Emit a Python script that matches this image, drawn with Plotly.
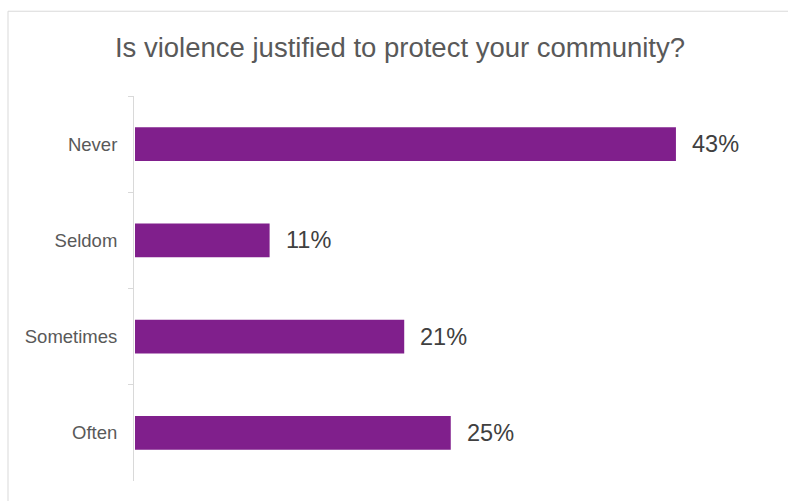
import plotly.graph_objects as go

categories = ["Never", "Seldom", "Sometimes", "Often"]
values = [43.0, 10.7, 21.4, 25.1]
labels = ["43%", "11%", "21%", "25%"]

title_text = "Is violence justified to protect your community?"
bar_color = "#801F8C"
FONT = "Liberation Sans, Arial, sans-serif"

W, H = 788, 501
ml, mr, mt, mb = 134, 24, 95.5, 19.5

fig = go.Figure()
fig.add_trace(go.Bar(
    x=values, y=categories, orientation="h",
    marker=dict(color=bar_color, line=dict(width=0)),
    hoverinfo="skip",
))

for c, v, t in zip(categories, values, labels):
    fig.add_annotation(
        x=v, y=c, text=t, showarrow=False, xanchor="left", yanchor="middle",
        xshift=14, font=dict(family=FONT, size=23.5, color="#404040"),
    )

pw = W - ml - mr
ph = H - mt - mb
# outer chart border (paper coordinates relative to plot area)
fig.add_shape(
    type="rect", xref="paper", yref="paper",
    x0=(8 - ml) / pw, x1=(W + 20 - ml) / pw,
    y0=-(mb + 20) / ph, y1=1 + (mt - 10.5) / ph,
    line=dict(color="#D9D9D9", width=1), fillcolor="rgba(0,0,0,0)", layer="below",
)

fig.update_layout(
    width=W, height=H,
    margin=dict(l=ml, r=mr, t=mt, b=mb, pad=0),
    paper_bgcolor="white", plot_bgcolor="white",
    bargap=0.647,
    showlegend=False,
    title=dict(
        text=title_text, xref="container", x=400 / W, xanchor="center",
        yref="container", y=1 - 47 / H, yanchor="middle",
        font=dict(family=FONT, size=27.5, color="#595959"),
    ),
    xaxis=dict(range=[-0.08, 50], visible=False, showgrid=False, zeroline=False, fixedrange=True),
    yaxis=dict(
        categoryorder="array", categoryarray=categories, autorange="reversed",
        showline=True, linecolor="#D9D9D9", linewidth=1,
        ticks="outside", ticklen=5, tickcolor="#D9D9D9", tickwidth=1,
        tickson="boundaries", ticklabelstandoff=12,
        showgrid=False, zeroline=False,
        tickfont=dict(family=FONT, size=18.5, color="#595959"),
    ),
)

fig.write_html("out.html")
